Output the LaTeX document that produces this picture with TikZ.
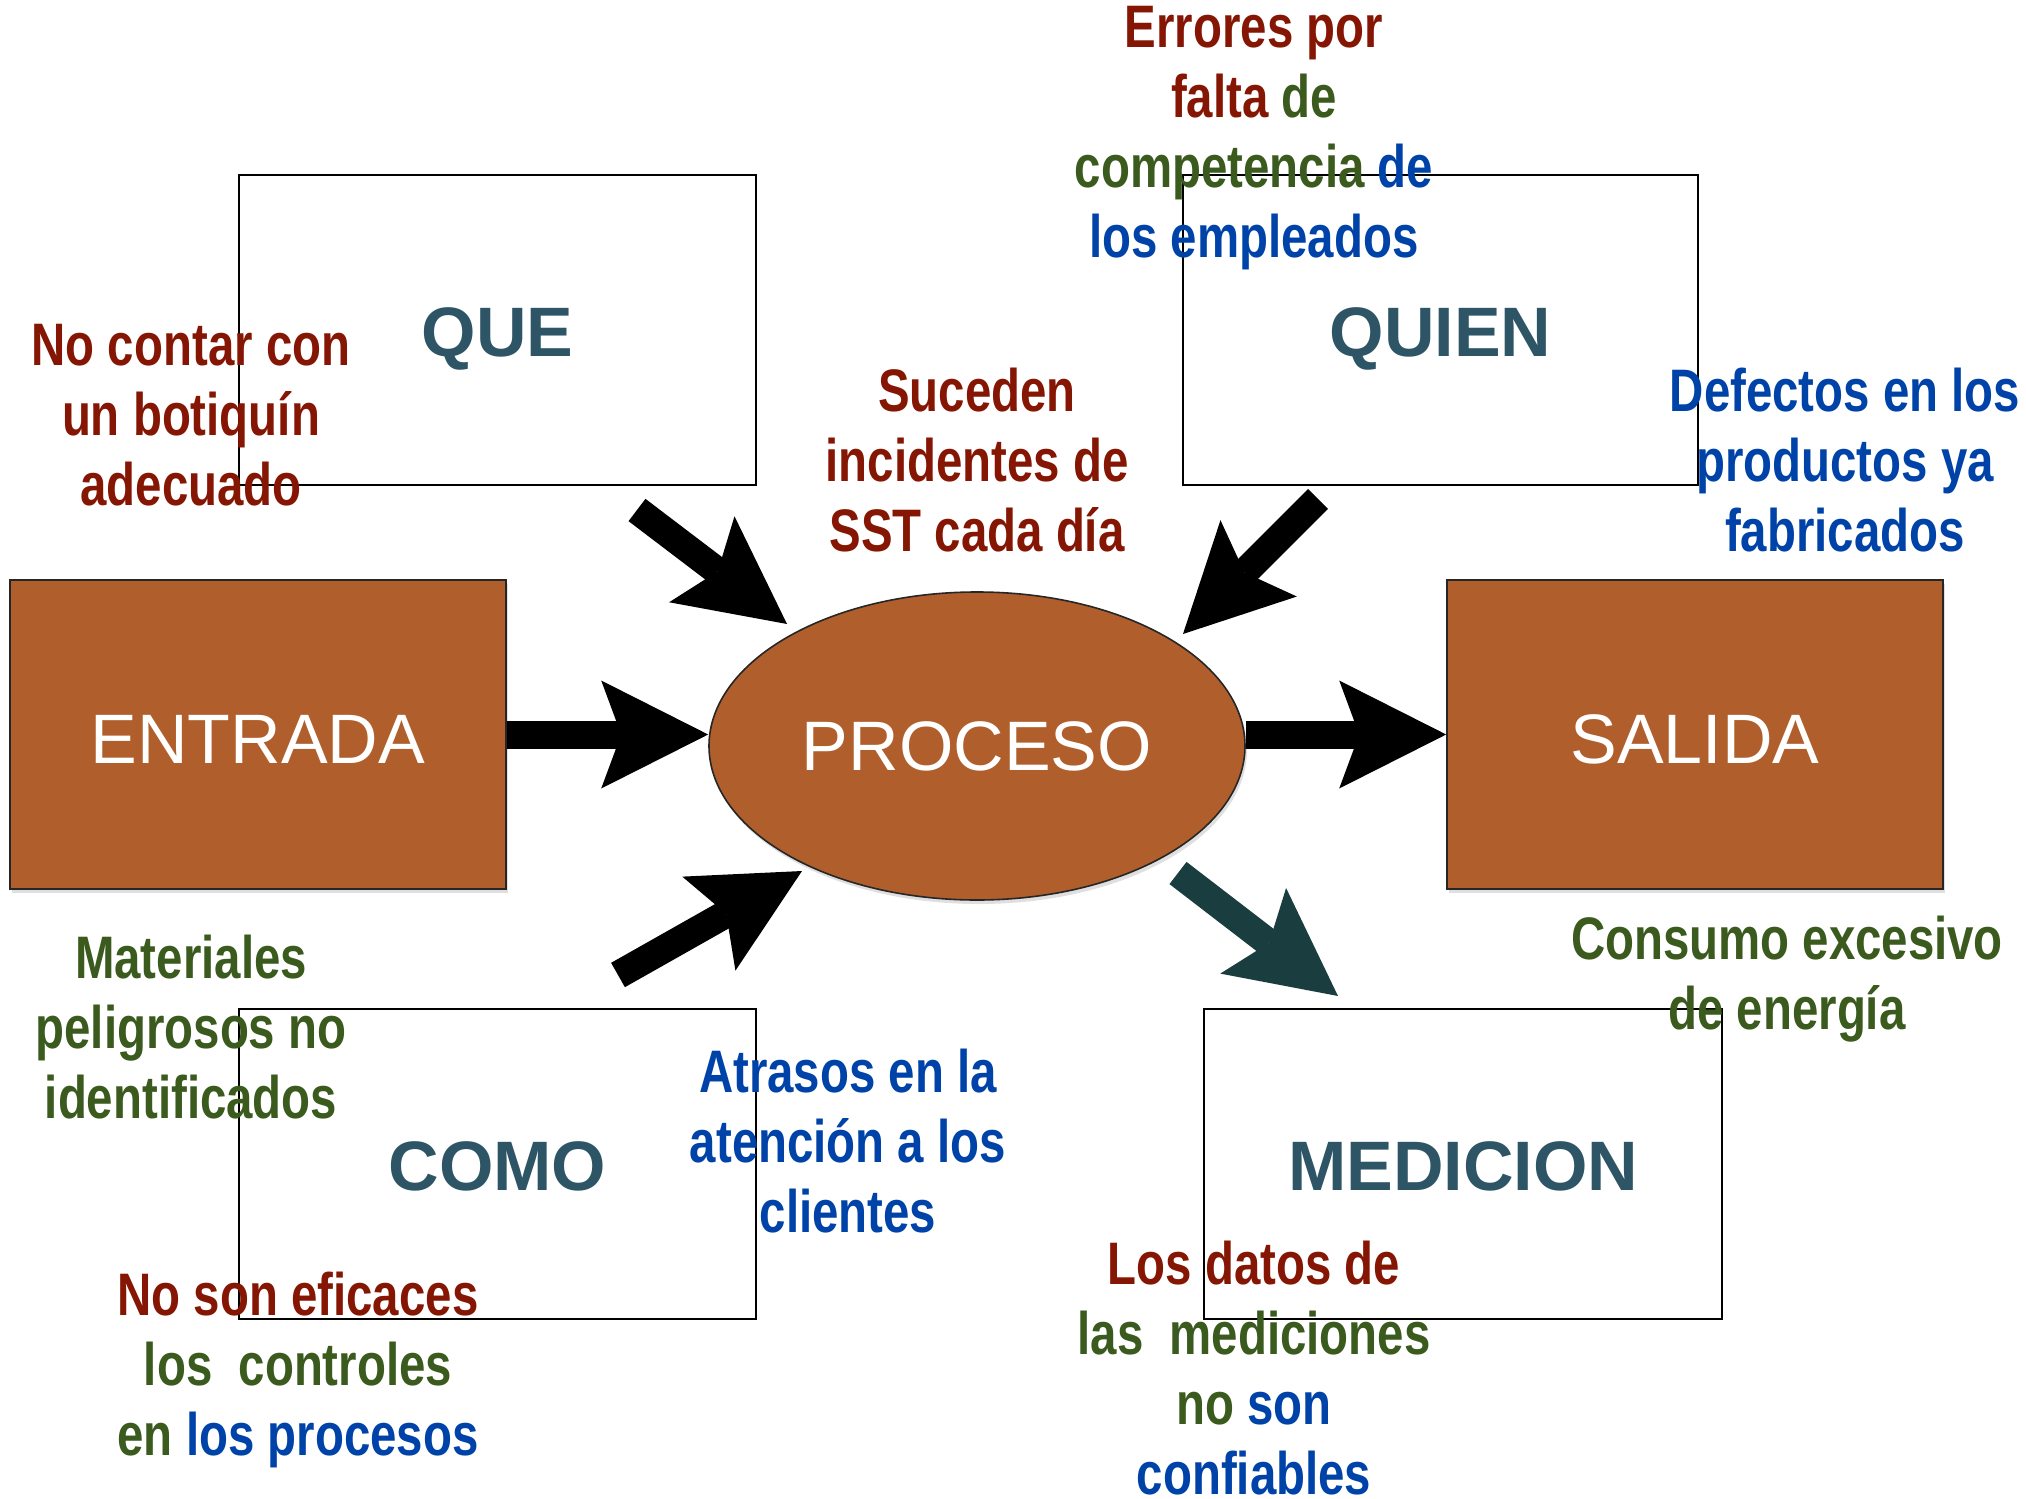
\documentclass[tikz,border=0pt]{standalone}
\usepackage{fontspec}
\setmainfont{Liberation Sans}
\newfontfamily\condfont{Liberation Sans}[FakeStretch=0.79]
\usepackage{tikz}
\usetikzlibrary{arrows.meta,shapes.geometric,shadows}

\definecolor{notered}{HTML}{861604}
\definecolor{notegreen}{HTML}{3B5A1E}
\definecolor{noteblue}{HTML}{0043A8}
\definecolor{titleblue}{HTML}{2E5566}
\definecolor{rust}{HTML}{B05F2C}
\definecolor{darkteal}{HTML}{1A3E40}

\newcommand{\rd}[1]{\textcolor{notered}{#1}}
\newcommand{\gr}[1]{\textcolor{notegreen}{#1}}
\newcommand{\bl}[1]{\textcolor{noteblue}{#1}}
\newcommand{\sinkby}[2]{\raisebox{-#1}[\height][\depth]{#2}}

\begin{document}
\begin{tikzpicture}[x=0.5pt,y=-0.5pt,
    frame/.style={draw=black,line width=1pt,minimum height=155pt,inner sep=0pt,
      text=titleblue,font=\bfseries\fontsize{35}{40}\selectfont},
    stage/.style={draw=black!85,line width=0.8pt,fill=rust,text=white,inner sep=0pt,
      font=\fontsize{35}{40}\selectfont,
      drop shadow={opacity=0.25,shadow xshift=1pt,shadow yshift=-2pt}},
    note/.style={align=center,inner sep=0pt,font=\condfont\bfseries\fontsize{30}{35}\selectfont},
    bigarrow/.style={line width=14pt,
      -{Stealth[length=53.5pt,width=54pt,inset=10pt,line width=0pt]}}]
    \fill[white] (0,0) rectangle (2026,1499);
    \useasboundingbox (0,0) rectangle (2026,1499);

    % the four question boxes
    \node[frame,minimum width=258.5pt] (que) at (497.5,329.5) {\sinkby{4.5pt}{QUE}};
    \node[frame,minimum width=257.5pt] (quien) at (1440.5,329.5) {\sinkby{4.5pt}{QUIEN}};
    \node[frame,minimum width=258.5pt] (como) at (497.5,1163.5) {\sinkby{1.5pt}{COMO}};
    \node[frame,minimum width=259pt] (medicion) at (1463,1163.5) {\sinkby{1.5pt}{MEDICION}};

    % entrada - proceso - salida
    \node[stage,minimum width=248pt,minimum height=154.5pt] (entrada) at (258,734.5) {\sinkby{2.5pt}{ENTRADA}};
    \node[stage,minimum width=248pt,minimum height=154.5pt] (salida) at (1695,734.5) {\sinkby{2.5pt}{SALIDA}};
    \node[stage,ellipse,minimum width=268pt,minimum height=154pt] (proceso) at (977,746) {PROCESO};

    \coordinate (quetail) at (637,510);
    \coordinate (quetip) at (787,624);
    \coordinate (quientail) at (1318,499);
    \coordinate (quientip) at (1183,634);
    \coordinate (comotail) at (618,975);
    \coordinate (comotip) at (802,871);
    \coordinate (medtail) at (1178,873);
    \coordinate (medtip) at (1338,996);

    \draw[bigarrow] (entrada.east) -- (entrada.east -| proceso.west);
    \draw[bigarrow] (proceso.east |- salida.west) -- (salida.west);
    \draw[bigarrow] (quetail) -- (quetip);
    \draw[bigarrow] (quientail) -- (quientip);
    \draw[bigarrow] (comotail) -- (comotip);
    \draw[bigarrow,darkteal] (medtail) -- (medtip);

    % notes
    \node[note,text=notered] (botiquin) at (191,415) {No contar con\\un botiquín\\adecuado};
    \node[note] (errores) at (1254,138) {\rd{Errores por}\\\rd{falta} \gr{de}\\\gr{competencia} \bl{de}\\\bl{los empleados}};
    \node[note,text=notered] (suceden) at (977,460) {Suceden\\incidentes de\\SST cada día};
    \node[note,text=noteblue] (defectos) at (1845,460) {Defectos en los\\productos ya\\fabricados};
    \node[note,text=notegreen] (materiales) at (191,1027) {Materiales\\peligrosos no\\identificados};
    \node[note,text=noteblue] (atrasos) at (848,1141) {Atrasos en la\\atención a los\\clientes};
    \node[note,text=notegreen] (consumo) at (1787,979) {Consumo excesivo\\de energía};
    \node[note] (eficaces) at (298,1370) {\rd{No son eficaces}\\\gr{los~~controles}\\\gr{en} \bl{los procesos}};
    \node[note] (datos) at (1254,1368) {\rd{Los datos de}\\\gr{las~~mediciones}\\\gr{no} \bl{son}\\\bl{confiables}};
\end{tikzpicture}
\end{document}
